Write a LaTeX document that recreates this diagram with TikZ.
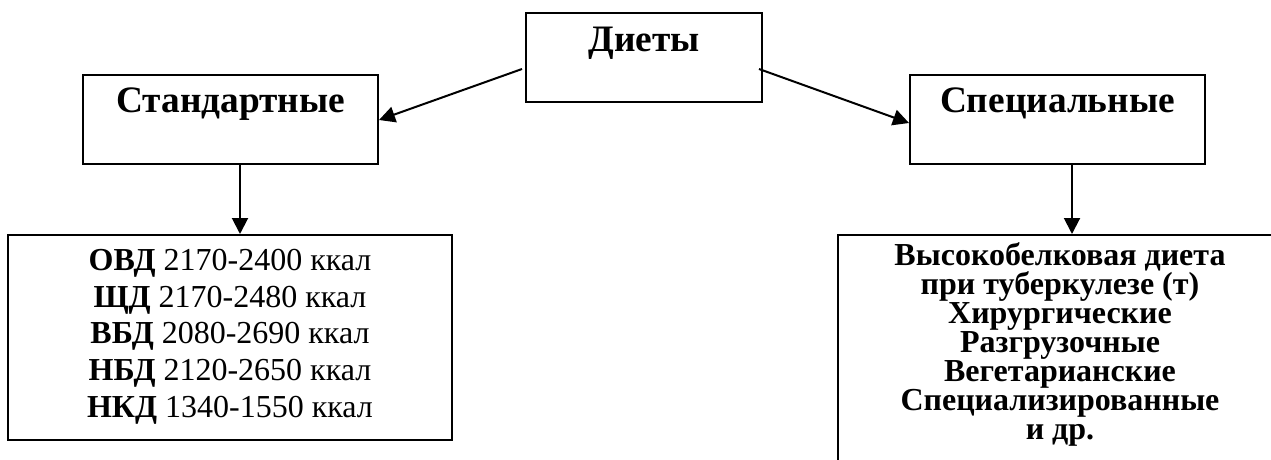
\documentclass[tikz,border=0pt]{standalone}
\usepackage{fontspec}
\setmainfont{Liberation Serif}
\usetikzlibrary{arrows.meta,calc}
\begin{document}
\begin{tikzpicture}[x=0.75pt,y=-0.75pt,
  box/.style={draw,line width=1.5pt,inner sep=0pt,rectangle},
  arr/.style={line width=1.5pt,-{Triangle[length=12pt,width=12pt]}},
  head/.style={font=\bfseries\fontsize{28}{33}\selectfont,inner sep=0pt,anchor=base},
  lstA/.style={font=\fontsize{24}{27.5}\selectfont,align=center,inner sep=0pt,anchor=north},
  lstB/.style={font=\bfseries\fontsize{24}{21.75}\selectfont,align=center,inner sep=0pt,anchor=north}]
\useasboundingbox (0,0) rectangle (1271,460);
\clip (0,0) rectangle (1271,460);
% boxes
\node[box,minimum width=177pt,minimum height=66.75pt] (diet) at (644,57.5) {};
\node[box,minimum width=221.25pt,minimum height=66.75pt] (std) at (230.5,119.5) {};
\node[box,minimum width=221.25pt,minimum height=66.75pt] (spec) at (1057.5,119.5) {};
\node[box,minimum width=333pt,minimum height=153.75pt] (ovd) at (230,337.5) {};
\node[box,minimum width=333pt,minimum height=198.75pt] (vbd) at (1060,367.5) {};
% texts
\node[head] (tdiet) at (644,52) {Диеты};
\node[head] (tstd) at (230.5,113) {Стандартные};
\node[head] (tspec) at (1057.5,113) {Специальные};
\node[lstA] (tovd) at (230,249) {\textbf{ОВД} 2170-2400 ккал\\
\textbf{ЩД} 2170-2480 ккал\\
\textbf{ВБД} 2080-2690 ккал\\
\textbf{НБД} 2120-2650 ккал\\
\textbf{НКД} 1340-1550 ккал};
\node[lstB] (tvbd) at (1060,242) {Высокобелковая диета\\
при туберкулезе (т)\\
Хирургические\\
Разгрузочные\\
Вегетарианские\\
Специализированные\\
и др.};
% connectors
\draw[arr] ($(diet.west)+(-3,11.5)$) -- ($(std.east)+(0,0.5)$);
\draw[arr] ($(diet.east)+(-4,11.5)$) -- ($(spec.west)+(0,3.5)$);
\draw[arr] ($(std.south)+(9.5,0)$) -- ($(ovd.north)+(10,0)$);
\draw[arr] ($(spec.south)+(14.5,0)$) -- ($(vbd.north)+(12,0)$);
\end{tikzpicture}
\end{document}
